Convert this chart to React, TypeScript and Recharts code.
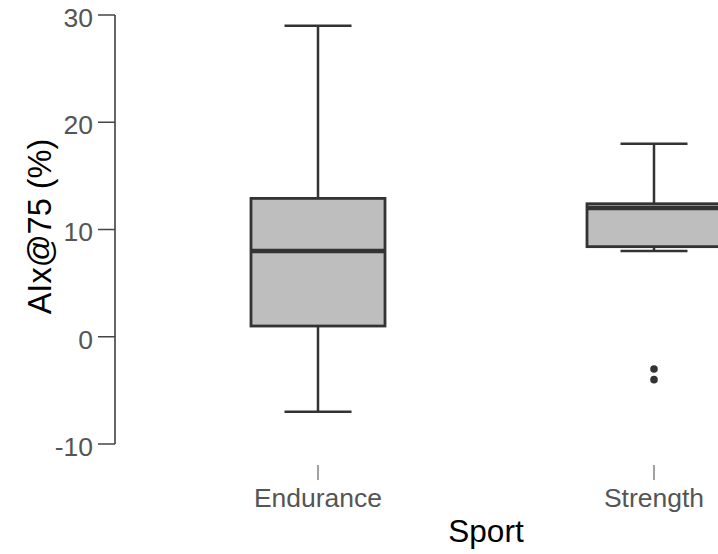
import { BarChart, Bar, XAxis, YAxis } from "recharts";

// box plot summary per sport
const categories = ["Endurance", "Strength"];
const mins = [-7, 8];
const q1s = [1, 8.4];
const medians = [8, 12];
const q3s = [12.9, 12.4];
const maxs = [29, 18];
const outliers: number[][] = [[], [-3, -4]];
const yTicks = [-10, 0, 10, 20, 30];

const data = categories.map((name, i) => ({
  name,
  min: mins[i],
  q1: q1s[i],
  median: medians[i],
  q3: q3s[i],
  max: maxs[i],
  outliers: outliers[i],
  range: [mins[i], maxs[i]],
}));

const FONT = "'Liberation Sans', Arial, sans-serif";
const INK = "#333333";

const BoxShape = (props: any) => {
  const { x, y, width, height, payload } = props;
  const { min, q1, median, q3, max } = payload;
  const top = Math.min(y, y + height);
  const k = Math.abs(height) / (max - min);
  const py = (v: number) => top + (max - v) * k;
  const cx = x + width / 2;
  const cap = width / 4;

  return (
    <g>
      <line x1={cx} x2={cx} y1={py(max)} y2={py(q3)} stroke={INK} strokeWidth={2.5} />
      <line x1={cx} x2={cx} y1={py(q1)} y2={py(min)} stroke={INK} strokeWidth={2.5} />
      <line x1={cx - cap} x2={cx + cap} y1={py(max)} y2={py(max)} stroke={INK} strokeWidth={2.5} />
      <line x1={cx - cap} x2={cx + cap} y1={py(min)} y2={py(min)} stroke={INK} strokeWidth={2.5} />
      <rect
        x={x}
        y={py(q3)}
        width={width}
        height={py(q1) - py(q3)}
        fill="#bebebe"
        stroke={INK}
        strokeWidth={2.8}
      />
      <line x1={x} x2={x + width} y1={py(median)} y2={py(median)} stroke={INK} strokeWidth={4.5} />
      {payload.outliers.map((v: number, i: number) => (
        <circle key={i} cx={cx} cy={py(v)} r={3.8} fill={INK} />
      ))}
    </g>
  );
};

const XTick = ({ x, y, payload }: any) => (
  <g>
    <line x1={x} x2={x} y1={y + 21} y2={y + 36} stroke="#707070" strokeWidth={1.3} />
    <text x={x} y={y + 62.5} textAnchor="middle" fontSize={26.5} fill="#555" fontFamily={FONT}>
      {payload.value}
    </text>
  </g>
);

const YTick = ({ x, y, payload }: any) => (
  <text x={x} y={y + 2.5} dy="0.355em" textAnchor="end" fontSize={26.5} fill="#555" fontFamily={FONT}>
    {payload.value}
  </text>
);

const YLabel = ({ viewBox }: any) => {
  const cx = viewBox.x + 40;
  const cy = viewBox.y + viewBox.height / 2 - 3;
  return (
    <text
      x={cx}
      y={cy}
      transform={`rotate(-90 ${cx} ${cy})`}
      textAnchor="middle"
      dominantBaseline="central"
      fontSize={32.5}
      fill="#000"
      fontFamily={FONT}
    >
      AIx@75 (%)
    </text>
  );
};

const XLabel = ({ viewBox }: any) => (
  <text
    x={viewBox.x + viewBox.width / 2}
    y={viewBox.y + 97.5}
    textAnchor="middle"
    fontSize={31.5}
    fill="#000"
    fontFamily={FONT}
  >
    Sport
  </text>
);

export default function App() {
  return (
    <div
      style={{
        position: "fixed",
        left: 0,
        top: 0,
        width: 718,
        height: 554,
        overflow: "hidden",
        background: "#fff",
      }}
    >
      <BarChart
        width={870}
        height={554}
        data={data}
        margin={{ top: 15, right: 13, bottom: 0, left: 0 }}
      >
        <XAxis
          dataKey="name"
          height={110}
          padding={{ left: 35, right: 35 }}
          axisLine={false}
          tickLine={false}
          tickSize={0}
          tickMargin={0}
          tick={<XTick />}
          interval={0}
          label={{ content: <XLabel /> }}
        />
        <YAxis
          width={115}
          domain={[-10, 30]}
          ticks={yTicks}
          allowDataOverflow
          tickSize={17}
          tickMargin={5}
          tick={<YTick />}
          tickLine={{ stroke: "#444", strokeWidth: 1.5 }}
          axisLine={{ stroke: INK, strokeWidth: 1.5 }}
          label={{ content: <YLabel /> }}
        />
        <Bar dataKey="range" barSize={134} shape={<BoxShape />} isAnimationActive={false} />
      </BarChart>
    </div>
  );
}
